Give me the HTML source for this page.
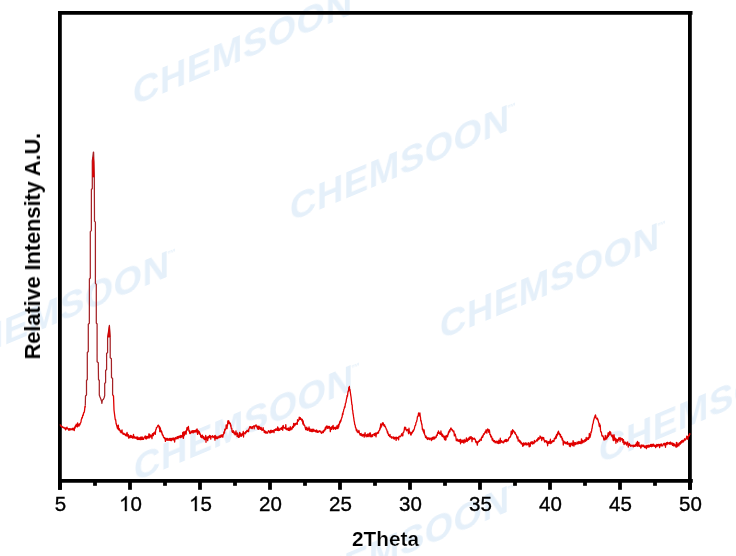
<!DOCTYPE html>
<html><head><meta charset="utf-8"><style>
html,body{margin:0;padding:0;background:#fff;}
body{width:736px;height:556px;overflow:hidden;}
svg{display:block;}
.tl{font-family:"Liberation Sans",sans-serif;font-size:20.5px;fill:#000;text-anchor:middle;stroke:#000;stroke-width:0.35px;}
.at{font-family:"Liberation Sans",sans-serif;font-size:20.8px;font-weight:bold;fill:#000;stroke:#fff;stroke-width:0.2px;}
.wm{font-family:"Liberation Sans",sans-serif;font-size:36.5px;font-weight:bold;fill:rgb(110,170,225);letter-spacing:0.6px;}
</style></head><body>
<svg width="736" height="556" viewBox="0 0 736 556">
<rect x="0" y="0" width="736" height="556" fill="#fff"/>
<g opacity="0.18">
<text transform="matrix(1,-0.42,0,1,133,106)" class="wm">CHEMSOON<tspan font-size="9" dy="-19" dx="-3" style="stroke:none">™</tspan></text>
<text transform="matrix(1,-0.42,0,1,290,222)" class="wm">CHEMSOON<tspan font-size="9" dy="-19" dx="-3" style="stroke:none">™</tspan></text>
<text transform="matrix(1,-0.42,0,1,440,340)" class="wm">CHEMSOON<tspan font-size="9" dy="-19" dx="-3" style="stroke:none">™</tspan></text>
<text transform="matrix(1,-0.42,0,1,599,464)" class="wm">CHEMSOON<tspan font-size="9" dy="-19" dx="-3" style="stroke:none">™</tspan></text>
<text transform="matrix(1,-0.42,0,1,134,482)" class="wm">CHEMSOON<tspan font-size="9" dy="-19" dx="-3" style="stroke:none">™</tspan></text>
<text transform="matrix(1,-0.42,0,1,-50,368)" class="wm">CHEMSOON<tspan font-size="9" dy="-19" dx="-3" style="stroke:none">™</tspan></text>
<text transform="matrix(1,-0.42,0,1,290,603)" class="wm">CHEMSOON<tspan font-size="9" dy="-19" dx="-3" style="stroke:none">™</tspan></text>
</g>
<g stroke="#000" stroke-width="3.8" fill="none" stroke-linecap="butt">
<line x1="58" y1="12.9" x2="692.5" y2="12.9"/>
<line x1="58" y1="480.9" x2="692.8" y2="480.9"/>
<line x1="59.9" y1="11" x2="59.9" y2="489.8"/>
<line x1="689.9" y1="11" x2="689.9" y2="489.8"/>
<line x1="60" y1="480" x2="60" y2="489.8"/><line x1="130" y1="480" x2="130" y2="489.8"/><line x1="200" y1="480" x2="200" y2="489.8"/><line x1="270" y1="480" x2="270" y2="489.8"/><line x1="340" y1="480" x2="340" y2="489.8"/><line x1="410" y1="480" x2="410" y2="489.8"/><line x1="480" y1="480" x2="480" y2="489.8"/><line x1="550" y1="480" x2="550" y2="489.8"/><line x1="620" y1="480" x2="620" y2="489.8"/><line x1="690" y1="480" x2="690" y2="489.8"/><line x1="95" y1="480" x2="95" y2="485.8"/><line x1="165" y1="480" x2="165" y2="485.8"/><line x1="235" y1="480" x2="235" y2="485.8"/><line x1="305" y1="480" x2="305" y2="485.8"/><line x1="375" y1="480" x2="375" y2="485.8"/><line x1="445" y1="480" x2="445" y2="485.8"/><line x1="515" y1="480" x2="515" y2="485.8"/><line x1="585" y1="480" x2="585" y2="485.8"/><line x1="655" y1="480" x2="655" y2="485.8"/>
</g>
<text x="60.5" y="511" class="tl">5</text><path d="M763 0L583 0L583 1147Q518 1085 412 1023Q306 961 222 930L222 1104Q373 1175 486 1276Q599 1377 646 1472L763 1472Z" transform="translate(119.10,511) scale(0.010010,-0.010010)" fill="#000" stroke="#000" stroke-width="35.0"/><text x="130.5" y="511" class="tl" style="text-anchor:start">0</text><path d="M763 0L583 0L583 1147Q518 1085 412 1023Q306 961 222 930L222 1104Q373 1175 486 1276Q599 1377 646 1472L763 1472Z" transform="translate(189.10,511) scale(0.010010,-0.010010)" fill="#000" stroke="#000" stroke-width="35.0"/><text x="200.5" y="511" class="tl" style="text-anchor:start">5</text><text x="270.5" y="511" class="tl">20</text><text x="340.5" y="511" class="tl">25</text><text x="410.5" y="511" class="tl">30</text><text x="480.5" y="511" class="tl">35</text><text x="550.5" y="511" class="tl">40</text><text x="620.5" y="511" class="tl">45</text><text x="690.5" y="511" class="tl">50</text>
<text x="352" y="546" class="at">2Theta</text>
<text x="0" y="0" transform="translate(40,359.5) rotate(-90)" class="at" style="font-size:22px;letter-spacing:-0.16px;stroke-width:0.05px">Relative Intensity A.U.</text>
<g fill="none" stroke-linejoin="round">
<path d="M60.00,425.3 L60.28,424.9 L60.56,425.3 L60.84,425.5 L61.12,426.6 L61.40,426.6 L61.68,426.9 L61.96,426.4 L62.24,426.5 L62.52,427.3 L62.80,427.2 L63.08,427.5 L63.36,427.8 L63.64,427.7 L63.92,427.2 L64.20,428.0 L64.48,428.0 L64.76,428.5 L65.04,428.8 L65.32,427.9 L65.60,429.8 L65.88,428.8 L66.16,428.1 L66.44,427.9 L66.72,428.8 L67.00,427.2 L67.28,428.7 L67.56,428.4 L67.84,428.8 L68.12,428.6 L68.40,429.3 L68.68,430.2 L68.96,429.5 L69.24,428.6 L69.52,430.2 L69.80,429.1 L70.08,428.7 L70.36,429.4 L70.64,429.7 L70.92,428.8 L71.20,429.0 L71.48,429.3 L71.76,429.7 L72.04,429.7 L72.32,428.3 L72.60,429.3 L72.88,429.8 L73.16,428.2 L73.44,428.8 L73.72,429.9 L74.00,428.4 L74.28,430.5 L74.56,427.3 L74.84,427.0 L75.12,428.2 L75.40,425.8 L75.68,425.6 L75.96,426.6 L76.24,424.2 L76.52,425.2 L76.80,425.6 L77.08,424.8 L77.36,426.9 L77.64,422.8 L77.92,426.0 L78.20,425.7 L78.48,424.4 L78.76,424.7 L79.04,426.1 L79.32,424.4 L79.60,423.8 L79.88,424.8 L80.16,423.8 L80.44,423.3 L80.72,422.6 L81.00,422.0 L81.28,419.5 L81.56,419.1 L81.84,417.6 L82.12,418.1 L82.40,417.5 L82.68,415.3 L82.96,414.9 L83.24,415.2 L83.52,413.3 L83.80,412.4 L84.08,412.6 L84.36,411.6 L84.64,409.6 L84.92,406.5 L85.20,407.1 L85.30,405.5" stroke="#e00000" stroke-width="1.3"/>
<path d="M85.30,405.5 L85.50,396.0 L86.50,395.0 L86.50,380.5 L87.30,379.5 L87.30,352.5 L88.30,351.5 L88.30,324.3 L89.35,323.3 L89.40,279.0 L90.30,278.0 L90.30,231.6 L91.35,230.6 L91.40,189.5 L92.30,188.5 L92.30,161.0 L93.40,152.0 L93.60,152.0 L94.30,177.0 L94.50,221.2 L95.40,222.2 L95.40,283.4 L96.30,284.4 L96.30,323.0 L97.10,324.0 L97.10,361.7 L98.30,362.7 L98.50,379.5 L99.30,380.5 L99.30,395.0 L100.00,397.0 L100.80,399.0 L101.50,401.0 L101.90,403.3 L102.40,400.0 L103.30,399.5 L104.20,397.5 L104.70,395.5 L104.70,383.5 L105.60,382.5 L105.60,370.5 L106.60,369.5 L106.60,353.5 L107.60,352.5 L107.60,338.0 L109.40,325.3 L110.20,338.0 L110.20,357.7 L111.40,358.7 L111.50,377.5 L112.60,378.5 L112.60,395.0" stroke="#a52226" stroke-width="1.25"/>
<path d="M92.6,177 L92.7,162 L93.3,157 L93.9,162 L94.1,177 Z" stroke="#d80000" stroke-width="0.7" fill="#d80000"/>
<path d="M107.8,337 L109.4,326.5 L110,337 Z" stroke="#d80000" stroke-width="0.9" fill="#d80000"/>
<path d="M112.60,395.0 L113.50,396.0 L114.00,410.0 L115.00,417.8 L115.28,419.7 L115.56,419.4 L115.84,421.1 L116.12,424.0 L116.40,423.7 L116.68,425.8 L116.96,425.5 L117.24,428.0 L117.52,426.3 L117.80,428.9 L118.08,427.6 L118.36,425.1 L118.64,429.8 L118.92,430.0 L119.20,428.6 L119.48,429.2 L119.76,430.3 L120.04,430.2 L120.32,431.8 L120.60,430.9 L120.88,432.4 L121.16,432.7 L121.44,432.0 L121.72,430.9 L122.00,429.9 L122.28,432.7 L122.56,433.2 L122.84,433.4 L123.12,434.3 L123.40,433.8 L123.68,433.1 L123.96,433.8 L124.24,434.6 L124.52,433.8 L124.80,434.1 L125.08,434.7 L125.36,434.4 L125.64,435.5 L125.92,435.4 L126.20,433.9 L126.48,435.8 L126.76,433.8 L127.04,432.5 L127.32,434.2 L127.60,434.2 L127.88,436.5 L128.16,435.1 L128.44,434.7 L128.72,438.2 L129.00,436.4 L129.28,436.7 L129.56,436.1 L129.84,437.7 L130.12,436.8 L130.40,435.5 L130.68,437.1 L130.96,435.7 L131.24,437.7 L131.52,436.0 L131.80,435.9 L132.08,436.6 L132.36,437.1 L132.64,438.2 L132.92,436.5 L133.20,437.7 L133.48,434.4 L133.76,436.5 L134.04,438.1 L134.32,436.7 L134.60,436.8 L134.88,437.8 L135.16,438.2 L135.44,437.4 L135.72,438.1 L136.00,437.1 L136.28,437.0 L136.56,437.7 L136.84,438.9 L137.12,438.2 L137.40,439.4 L137.68,437.0 L137.96,439.5 L138.24,437.7 L138.52,438.8 L138.80,438.8 L139.08,439.4 L139.36,437.9 L139.64,437.8 L139.92,439.5 L140.20,437.5 L140.48,439.7 L140.76,437.2 L141.04,439.4 L141.32,437.2 L141.60,438.0 L141.88,439.5 L142.16,437.0 L142.44,438.1 L142.72,439.4 L143.00,438.3 L143.28,439.4 L143.56,439.4 L143.84,437.5 L144.12,437.4 L144.40,437.0 L144.68,437.1 L144.96,437.7 L145.24,435.8 L145.52,438.4 L145.80,437.5 L146.08,439.0 L146.36,438.2 L146.64,436.4 L146.92,438.5 L147.20,438.0 L147.48,436.4 L147.76,437.2 L148.04,437.9 L148.32,437.3 L148.60,437.5 L148.88,433.8 L149.16,438.0 L149.44,434.2 L149.72,437.1 L150.00,435.3 L150.28,437.0 L150.56,436.3 L150.84,434.8 L151.12,436.9 L151.40,436.2 L151.68,435.7 L151.96,438.6 L152.24,435.2 L152.52,433.6 L152.80,433.8 L153.08,433.7 L153.36,435.7 L153.64,432.8 L153.92,433.6 L154.20,432.8 L154.48,433.9 L154.76,433.1 L155.04,431.6 L155.32,434.3 L155.60,430.7 L155.88,429.5 L156.16,429.3 L156.44,427.5 L156.72,427.6 L157.00,427.2 L157.28,426.9 L157.56,426.5 L157.84,425.3 L158.12,425.6 L158.40,425.1 L158.68,425.8 L158.96,426.3 L159.24,428.1 L159.52,426.5 L159.80,431.7 L160.08,429.6 L160.36,428.0 L160.64,430.1 L160.92,431.5 L161.20,430.6 L161.48,432.7 L161.76,431.6 L162.04,433.5 L162.32,434.8 L162.60,434.3 L162.88,435.7 L163.16,435.5 L163.44,436.9 L163.72,437.6 L164.00,437.8 L164.28,437.5 L164.56,438.7 L164.84,437.7 L165.12,439.0 L165.40,441.4 L165.68,438.7 L165.96,439.7 L166.24,439.2 L166.52,438.4 L166.80,438.9 L167.08,440.3 L167.36,438.3 L167.64,439.2 L167.92,438.7 L168.20,440.2 L168.48,439.7 L168.76,440.0 L169.04,440.3 L169.32,438.4 L169.60,439.2 L169.88,439.3 L170.16,440.3 L170.44,438.5 L170.72,440.1 L171.00,440.6 L171.28,438.3 L171.56,440.5 L171.84,439.2 L172.12,440.0 L172.40,438.4 L172.68,438.2 L172.96,439.7 L173.24,438.7 L173.52,438.2 L173.80,437.9 L174.08,440.3 L174.36,439.1 L174.64,442.0 L174.92,439.2 L175.20,438.2 L175.48,437.5 L175.76,438.5 L176.04,438.9 L176.32,438.3 L176.60,437.6 L176.88,438.7 L177.16,436.7 L177.44,438.3 L177.72,437.1 L178.00,438.7 L178.28,436.3 L178.56,437.1 L178.84,436.4 L179.12,437.7 L179.40,436.2 L179.68,436.3 L179.96,436.0 L180.24,437.2 L180.52,437.6 L180.80,435.5 L181.08,435.9 L181.36,437.2 L181.64,435.6 L181.92,437.0 L182.20,436.6 L182.48,436.0 L182.76,432.3 L183.04,434.4 L183.32,438.4 L183.60,436.2 L183.88,431.7 L184.16,435.6 L184.44,435.2 L184.72,433.1 L185.00,433.9 L185.28,431.4 L185.56,431.8 L185.84,430.9 L186.12,434.1 L186.40,431.0 L186.68,429.8 L186.96,427.7 L187.24,430.1 L187.52,427.9 L187.80,428.3 L188.08,428.4 L188.36,426.4 L188.64,428.6 L188.92,431.2 L189.20,430.4 L189.48,431.3 L189.76,433.3 L190.04,433.6 L190.32,433.5 L190.60,432.9 L190.88,432.0 L191.16,431.0 L191.44,431.4 L191.72,432.6 L192.00,432.2 L192.28,431.8 L192.56,430.7 L192.84,431.0 L193.12,432.9 L193.40,430.7 L193.68,431.3 L193.96,430.7 L194.24,432.0 L194.52,432.0 L194.80,430.7 L195.08,430.5 L195.36,431.0 L195.64,430.4 L195.92,432.1 L196.20,429.9 L196.48,430.3 L196.76,431.3 L197.04,428.8 L197.32,432.1 L197.60,434.4 L197.88,430.5 L198.16,432.7 L198.44,430.9 L198.72,431.4 L199.00,433.1 L199.28,431.7 L199.56,434.2 L199.84,433.0 L200.12,433.7 L200.40,434.3 L200.68,436.9 L200.96,436.8 L201.24,435.9 L201.52,437.6 L201.80,435.4 L202.08,436.5 L202.36,435.2 L202.64,436.6 L202.92,437.8 L203.20,436.4 L203.48,438.7 L203.76,436.7 L204.04,438.9 L204.32,438.1 L204.60,439.7 L204.88,437.9 L205.16,437.9 L205.44,438.5 L205.72,435.3 L206.00,442.3 L206.28,437.6 L206.56,437.4 L206.84,437.1 L207.12,438.7 L207.40,438.7 L207.68,440.6 L207.96,437.9 L208.24,436.5 L208.52,438.0 L208.80,437.8 L209.08,437.6 L209.36,436.5 L209.64,435.3 L209.92,436.1 L210.20,437.6 L210.48,435.8 L210.76,439.2 L211.04,437.1 L211.32,437.1 L211.60,436.5 L211.88,436.4 L212.16,436.6 L212.44,435.6 L212.72,436.9 L213.00,437.7 L213.28,437.0 L213.56,437.1 L213.84,436.3 L214.12,436.3 L214.40,435.9 L214.68,438.2 L214.96,440.1 L215.24,435.3 L215.52,438.2 L215.80,436.8 L216.08,437.6 L216.36,438.7 L216.64,438.3 L216.92,436.5 L217.20,438.3 L217.48,438.6 L217.76,438.4 L218.04,437.6 L218.32,436.8 L218.60,437.6 L218.88,436.2 L219.16,436.3 L219.44,437.5 L219.72,436.0 L220.00,435.7 L220.28,436.9 L220.56,437.3 L220.84,436.4 L221.12,435.0 L221.40,436.2 L221.68,436.4 L221.96,436.7 L222.24,434.9 L222.52,434.8 L222.80,437.1 L223.08,435.2 L223.36,434.7 L223.64,433.7 L223.92,431.9 L224.20,432.4 L224.48,433.1 L224.76,429.2 L225.04,430.2 L225.32,430.2 L225.60,429.1 L225.88,428.7 L226.16,425.0 L226.44,425.0 L226.72,428.1 L227.00,428.6 L227.28,426.2 L227.56,425.1 L227.84,420.9 L228.12,422.9 L228.40,421.1 L228.68,420.8 L228.96,423.5 L229.24,421.8 L229.52,422.9 L229.80,423.9 L230.08,423.1 L230.36,423.3 L230.64,426.1 L230.92,425.0 L231.20,427.9 L231.48,428.8 L231.76,428.3 L232.04,431.8 L232.32,431.2 L232.60,432.4 L232.88,431.9 L233.16,430.7 L233.44,430.9 L233.72,433.0 L234.00,431.6 L234.28,433.8 L234.56,432.8 L234.84,433.1 L235.12,434.8 L235.40,434.8 L235.68,434.1 L235.96,430.8 L236.24,434.1 L236.52,433.5 L236.80,433.9 L237.08,436.5 L237.36,433.0 L237.64,433.6 L237.92,435.0 L238.20,436.0 L238.48,437.4 L238.76,435.3 L239.04,437.4 L239.32,435.2 L239.60,432.3 L239.88,436.3 L240.16,432.8 L240.44,435.2 L240.72,435.1 L241.00,434.2 L241.28,436.3 L241.56,435.4 L241.84,434.4 L242.12,433.6 L242.40,435.2 L242.68,433.8 L242.96,433.4 L243.24,431.5 L243.52,437.0 L243.80,434.0 L244.08,433.0 L244.36,433.3 L244.64,433.0 L244.92,432.9 L245.20,433.8 L245.48,432.0 L245.76,431.6 L246.04,432.8 L246.32,432.3 L246.60,431.4 L246.88,430.3 L247.16,430.5 L247.44,430.8 L247.72,431.6 L248.00,431.2 L248.28,429.8 L248.56,431.7 L248.84,429.7 L249.12,428.5 L249.40,427.9 L249.68,426.9 L249.96,426.7 L250.24,427.7 L250.52,426.6 L250.80,428.1 L251.08,427.9 L251.36,427.9 L251.64,427.0 L251.92,428.6 L252.20,428.7 L252.48,426.7 L252.76,426.8 L253.04,426.5 L253.32,426.6 L253.60,425.9 L253.88,426.1 L254.16,428.8 L254.44,426.1 L254.72,425.8 L255.00,425.9 L255.28,426.0 L255.56,425.1 L255.84,426.1 L256.12,424.9 L256.40,426.8 L256.68,426.5 L256.96,426.7 L257.24,426.3 L257.52,428.8 L257.80,426.5 L258.08,426.1 L258.36,429.4 L258.64,427.8 L258.92,428.6 L259.20,426.4 L259.48,428.9 L259.76,427.4 L260.04,428.7 L260.32,427.5 L260.60,429.3 L260.88,427.8 L261.16,427.5 L261.44,428.6 L261.72,429.7 L262.00,430.5 L262.28,429.4 L262.56,430.1 L262.84,430.1 L263.12,427.6 L263.40,430.1 L263.68,430.2 L263.96,430.1 L264.24,432.3 L264.52,430.7 L264.80,431.4 L265.08,431.0 L265.36,433.1 L265.64,432.3 L265.92,431.6 L266.20,431.9 L266.48,433.1 L266.76,432.2 L267.04,432.3 L267.32,433.0 L267.60,433.0 L267.88,431.8 L268.16,431.9 L268.44,430.7 L268.72,431.4 L269.00,431.4 L269.28,431.7 L269.56,432.3 L269.84,432.9 L270.12,430.6 L270.40,432.8 L270.68,430.8 L270.96,430.2 L271.24,430.5 L271.52,431.9 L271.80,432.5 L272.08,431.4 L272.36,430.7 L272.64,431.6 L272.92,431.9 L273.20,430.3 L273.48,431.3 L273.76,430.5 L274.04,432.6 L274.32,429.6 L274.60,430.2 L274.88,430.2 L275.16,430.1 L275.44,430.4 L275.72,428.9 L276.00,430.2 L276.28,428.9 L276.56,429.2 L276.84,428.9 L277.12,430.3 L277.40,428.3 L277.68,427.0 L277.96,430.3 L278.24,430.5 L278.52,429.2 L278.80,428.1 L279.08,429.7 L279.36,430.4 L279.64,429.4 L279.92,430.0 L280.20,428.9 L280.48,429.0 L280.76,428.2 L281.04,428.2 L281.32,427.7 L281.60,429.3 L281.88,428.6 L282.16,427.1 L282.44,427.6 L282.72,430.3 L283.00,425.8 L283.28,425.5 L283.56,427.7 L283.84,427.3 L284.12,428.1 L284.40,427.6 L284.68,428.0 L284.96,428.2 L285.24,428.3 L285.52,428.8 L285.80,424.6 L286.08,428.9 L286.36,429.6 L286.64,429.1 L286.92,428.6 L287.20,428.9 L287.48,429.9 L287.76,428.3 L288.04,428.2 L288.32,430.2 L288.60,430.4 L288.88,428.0 L289.16,429.5 L289.44,430.5 L289.72,429.0 L290.00,429.5 L290.28,426.7 L290.56,429.5 L290.84,430.0 L291.12,428.0 L291.40,428.2 L291.68,428.3 L291.96,429.2 L292.24,428.4 L292.52,426.5 L292.80,426.6 L293.08,426.8 L293.36,427.5 L293.64,423.4 L293.92,426.2 L294.20,424.4 L294.48,425.8 L294.76,425.9 L295.04,423.5 L295.32,424.6 L295.60,424.6 L295.88,424.6 L296.16,423.9 L296.44,423.0 L296.72,423.7 L297.00,423.3 L297.28,424.3 L297.56,419.6 L297.84,420.4 L298.12,421.3 L298.40,420.2 L298.68,420.2 L298.96,419.9 L299.24,417.2 L299.52,418.9 L299.80,417.8 L300.08,419.4 L300.36,417.6 L300.64,419.4 L300.92,419.5 L301.20,418.9 L301.48,418.9 L301.76,420.1 L302.04,421.1 L302.32,419.3 L302.60,421.5 L302.88,424.0 L303.16,421.0 L303.44,423.4 L303.72,423.7 L304.00,425.3 L304.28,425.1 L304.56,425.2 L304.84,426.0 L305.12,427.3 L305.40,428.2 L305.68,429.7 L305.96,427.7 L306.24,429.5 L306.52,429.1 L306.80,427.2 L307.08,430.0 L307.36,429.4 L307.64,430.4 L307.92,428.3 L308.20,429.7 L308.48,428.6 L308.76,429.2 L309.04,427.0 L309.32,430.7 L309.60,431.0 L309.88,428.7 L310.16,429.7 L310.44,431.2 L310.72,430.2 L311.00,431.3 L311.28,429.9 L311.56,429.4 L311.84,431.6 L312.12,429.2 L312.40,430.1 L312.68,431.5 L312.96,429.3 L313.24,431.1 L313.52,429.9 L313.80,429.3 L314.08,431.3 L314.36,430.5 L314.64,430.7 L314.92,430.5 L315.20,430.5 L315.48,431.6 L315.76,431.9 L316.04,432.0 L316.32,430.1 L316.60,430.0 L316.88,430.8 L317.16,432.0 L317.44,432.4 L317.72,432.1 L318.00,430.8 L318.28,431.2 L318.56,432.2 L318.84,431.5 L319.12,431.6 L319.40,431.6 L319.68,430.7 L319.96,431.4 L320.24,431.4 L320.52,432.0 L320.80,431.2 L321.08,432.5 L321.36,433.3 L321.64,433.2 L321.92,433.0 L322.20,432.2 L322.48,431.8 L322.76,432.0 L323.04,431.0 L323.32,432.7 L323.60,431.4 L323.88,430.6 L324.16,430.0 L324.44,430.9 L324.72,430.8 L325.00,429.1 L325.28,427.7 L325.56,428.7 L325.84,429.2 L326.12,426.4 L326.40,427.5 L326.68,426.3 L326.96,425.9 L327.24,427.3 L327.52,428.4 L327.80,427.0 L328.08,427.8 L328.36,426.4 L328.64,428.2 L328.92,428.1 L329.20,427.9 L329.48,426.5 L329.76,428.0 L330.04,427.5 L330.32,431.7 L330.60,428.8 L330.88,427.6 L331.16,427.8 L331.44,427.0 L331.72,429.3 L332.00,428.2 L332.28,426.5 L332.56,427.5 L332.84,427.7 L333.12,425.3 L333.40,429.3 L333.68,428.4 L333.96,428.3 L334.24,427.4 L334.52,427.8 L334.80,428.6 L335.08,427.3 L335.36,429.3 L335.64,427.5 L335.92,428.6 L336.20,427.9 L336.48,426.8 L336.76,428.5 L337.04,425.6 L337.32,427.5 L337.60,427.5 L337.88,428.6 L338.16,427.9 L338.44,424.3 L338.72,426.9 L339.00,425.0 L339.28,424.3 L339.56,423.0 L339.84,421.5 L340.12,422.8 L340.40,420.5 L340.68,421.6 L340.96,420.7 L341.24,419.3 L341.52,418.5 L341.80,417.3 L342.08,417.4 L342.36,414.7 L342.64,413.2 L342.92,414.5 L343.20,411.7 L343.48,411.5 L343.76,409.5 L344.04,409.0 L344.32,408.1 L344.60,406.6 L344.88,407.4 L345.16,405.5 L345.44,403.4 L345.72,402.9 L346.00,402.2 L346.28,400.2 L346.56,398.7 L346.84,397.8 L347.12,395.5 L347.40,396.4 L347.68,394.3 L347.96,392.2 L348.24,390.9 L348.52,391.3 L348.80,387.5 L349.08,387.0 L349.36,386.4 L349.64,390.0 L349.92,389.3 L350.20,391.3 L350.48,393.4 L350.76,395.3 L351.04,397.0 L351.32,399.5 L351.60,402.0 L351.88,404.7 L352.16,404.8 L352.44,409.7 L352.72,410.4 L353.00,413.7 L353.28,414.6 L353.56,416.9 L353.84,418.6 L354.12,421.0 L354.40,421.7 L354.68,424.4 L354.96,424.7 L355.24,425.6 L355.52,427.6 L355.80,427.7 L356.08,429.0 L356.36,430.6 L356.64,429.3 L356.92,429.6 L357.20,431.8 L357.48,431.2 L357.76,431.8 L358.04,432.7 L358.32,432.0 L358.60,431.3 L358.88,430.4 L359.16,432.0 L359.44,433.0 L359.72,433.6 L360.00,434.8 L360.28,433.6 L360.56,435.2 L360.84,434.1 L361.12,433.4 L361.40,435.6 L361.68,434.6 L361.96,435.7 L362.24,435.7 L362.52,436.0 L362.80,434.3 L363.08,435.3 L363.36,434.4 L363.64,435.6 L363.92,434.9 L364.20,437.2 L364.48,434.1 L364.76,435.5 L365.04,432.7 L365.32,434.7 L365.60,435.6 L365.88,435.9 L366.16,436.8 L366.44,435.3 L366.72,434.7 L367.00,434.6 L367.28,434.8 L367.56,436.5 L367.84,434.0 L368.12,435.9 L368.40,435.0 L368.68,434.5 L368.96,436.6 L369.24,434.5 L369.52,433.1 L369.80,435.8 L370.08,435.5 L370.36,433.0 L370.64,436.6 L370.92,435.1 L371.20,436.8 L371.48,436.7 L371.76,435.3 L372.04,434.8 L372.32,436.5 L372.60,436.3 L372.88,434.7 L373.16,434.6 L373.44,434.7 L373.72,434.1 L374.00,434.7 L374.28,433.7 L374.56,435.5 L374.84,433.9 L375.12,433.8 L375.40,433.0 L375.68,433.7 L375.96,436.8 L376.24,434.6 L376.52,433.6 L376.80,432.9 L377.08,432.7 L377.36,433.6 L377.64,432.6 L377.92,432.2 L378.20,432.9 L378.48,433.1 L378.76,431.1 L379.04,430.8 L379.32,430.2 L379.60,430.3 L379.88,428.0 L380.16,429.1 L380.44,426.7 L380.72,423.9 L381.00,427.5 L381.28,425.4 L381.56,424.6 L381.84,426.0 L382.12,423.8 L382.40,423.0 L382.68,424.3 L382.96,422.6 L383.24,423.3 L383.52,424.3 L383.80,425.6 L384.08,424.7 L384.36,426.1 L384.64,424.9 L384.92,426.6 L385.20,427.0 L385.48,426.8 L385.76,427.8 L386.04,428.3 L386.32,429.3 L386.60,430.0 L386.88,429.8 L387.16,431.4 L387.44,433.0 L387.72,431.7 L388.00,433.0 L388.28,434.0 L388.56,435.3 L388.84,435.1 L389.12,435.7 L389.40,435.2 L389.68,436.5 L389.96,434.3 L390.24,436.5 L390.52,437.1 L390.80,436.9 L391.08,436.8 L391.36,436.8 L391.64,438.0 L391.92,436.6 L392.20,437.6 L392.48,437.6 L392.76,437.9 L393.04,438.0 L393.32,438.4 L393.60,437.0 L393.88,438.8 L394.16,437.3 L394.44,439.0 L394.72,437.8 L395.00,437.6 L395.28,437.3 L395.56,437.4 L395.84,438.2 L396.12,440.4 L396.40,438.5 L396.68,437.1 L396.96,438.2 L397.24,438.2 L397.52,437.6 L397.80,438.2 L398.08,438.9 L398.36,437.4 L398.64,439.8 L398.92,436.3 L399.20,436.4 L399.48,436.8 L399.76,436.2 L400.04,436.1 L400.32,436.7 L400.60,436.5 L400.88,435.9 L401.16,435.5 L401.44,434.4 L401.72,433.7 L402.00,435.2 L402.28,435.7 L402.56,433.7 L402.84,435.8 L403.12,432.5 L403.40,432.5 L403.68,432.3 L403.96,431.1 L404.24,430.1 L404.52,427.7 L404.80,427.1 L405.08,428.1 L405.36,429.1 L405.64,427.4 L405.92,429.3 L406.20,429.8 L406.48,430.8 L406.76,430.0 L407.04,429.8 L407.32,429.5 L407.60,430.1 L407.88,429.7 L408.16,431.4 L408.44,433.1 L408.72,433.7 L409.00,428.2 L409.28,431.6 L409.56,432.5 L409.84,432.5 L410.12,432.1 L410.40,433.3 L410.68,434.7 L410.96,435.1 L411.24,434.4 L411.52,432.5 L411.80,433.5 L412.08,433.0 L412.36,432.3 L412.64,431.4 L412.92,430.7 L413.20,431.7 L413.48,429.8 L413.76,430.4 L414.04,429.5 L414.32,429.0 L414.60,427.5 L414.88,426.4 L415.16,425.5 L415.44,425.6 L415.72,424.6 L416.00,422.5 L416.28,422.3 L416.56,421.8 L416.84,420.3 L417.12,419.4 L417.40,416.8 L417.68,416.6 L417.96,416.6 L418.24,415.5 L418.52,413.0 L418.80,413.4 L419.08,413.3 L419.36,413.8 L419.64,415.9 L419.92,413.0 L420.20,416.3 L420.48,417.3 L420.76,420.9 L421.04,420.3 L421.32,422.0 L421.60,424.2 L421.88,424.0 L422.16,426.9 L422.44,429.8 L422.72,429.0 L423.00,429.1 L423.28,431.4 L423.56,430.7 L423.84,433.0 L424.12,430.0 L424.40,432.6 L424.68,434.9 L424.96,435.0 L425.24,435.5 L425.52,437.3 L425.80,436.1 L426.08,436.2 L426.36,438.1 L426.64,437.3 L426.92,437.4 L427.20,439.0 L427.48,439.5 L427.76,439.2 L428.04,438.0 L428.32,438.8 L428.60,438.8 L428.88,437.8 L429.16,438.1 L429.44,439.5 L429.72,438.8 L430.00,438.5 L430.28,438.9 L430.56,438.3 L430.84,439.2 L431.12,439.4 L431.40,440.5 L431.68,438.9 L431.96,437.7 L432.24,439.6 L432.52,437.4 L432.80,438.2 L433.08,437.3 L433.36,439.0 L433.64,439.0 L433.92,437.0 L434.20,437.7 L434.48,438.9 L434.76,438.7 L435.04,437.0 L435.32,437.6 L435.60,437.6 L435.88,437.6 L436.16,437.5 L436.44,435.2 L436.72,435.8 L437.00,434.6 L437.28,435.4 L437.56,432.8 L437.84,432.5 L438.12,433.1 L438.40,431.0 L438.68,433.4 L438.96,432.0 L439.24,432.6 L439.52,433.3 L439.80,434.1 L440.08,432.8 L440.36,434.4 L440.64,434.3 L440.92,431.0 L441.20,433.2 L441.48,435.1 L441.76,433.7 L442.04,436.1 L442.32,434.1 L442.60,436.5 L442.88,434.9 L443.16,436.3 L443.44,436.9 L443.72,436.1 L444.00,437.8 L444.28,437.2 L444.56,439.6 L444.84,436.2 L445.12,437.8 L445.40,436.7 L445.68,440.1 L445.96,439.7 L446.24,435.3 L446.52,436.5 L446.80,435.9 L447.08,435.7 L447.36,436.8 L447.64,436.4 L447.92,433.8 L448.20,434.7 L448.48,432.0 L448.76,432.9 L449.04,432.4 L449.32,430.8 L449.60,429.9 L449.88,431.7 L450.16,429.5 L450.44,429.7 L450.72,428.1 L451.00,428.0 L451.28,428.9 L451.56,428.8 L451.84,429.9 L452.12,430.2 L452.40,429.7 L452.68,430.5 L452.96,431.2 L453.24,431.7 L453.52,430.9 L453.80,430.9 L454.08,432.6 L454.36,435.9 L454.64,434.4 L454.92,434.2 L455.20,434.2 L455.48,435.7 L455.76,436.3 L456.04,438.5 L456.32,440.6 L456.60,439.8 L456.88,440.7 L457.16,439.2 L457.44,440.7 L457.72,439.5 L458.00,441.1 L458.28,440.6 L458.56,440.1 L458.84,441.3 L459.12,441.4 L459.40,441.2 L459.68,439.7 L459.96,441.9 L460.24,439.5 L460.52,443.8 L460.80,439.3 L461.08,440.8 L461.36,441.5 L461.64,441.0 L461.92,442.4 L462.20,440.6 L462.48,440.3 L462.76,441.9 L463.04,442.2 L463.32,440.7 L463.60,440.8 L463.88,443.1 L464.16,439.3 L464.44,440.6 L464.72,441.4 L465.00,440.8 L465.28,442.1 L465.56,440.1 L465.84,441.6 L466.12,439.8 L466.40,437.8 L466.68,438.8 L466.96,441.0 L467.24,441.5 L467.52,439.6 L467.80,440.6 L468.08,439.7 L468.36,438.5 L468.64,440.1 L468.92,438.4 L469.20,437.6 L469.48,437.1 L469.76,439.3 L470.04,438.3 L470.32,437.2 L470.60,436.7 L470.88,438.4 L471.16,436.6 L471.44,437.4 L471.72,438.1 L472.00,441.6 L472.28,438.4 L472.56,437.6 L472.84,439.0 L473.12,439.0 L473.40,438.7 L473.68,439.2 L473.96,439.2 L474.24,438.2 L474.52,438.4 L474.80,439.2 L475.08,439.8 L475.36,439.5 L475.64,441.8 L475.92,441.2 L476.20,442.5 L476.48,441.3 L476.76,442.4 L477.04,443.2 L477.32,445.2 L477.60,443.0 L477.88,441.7 L478.16,441.4 L478.44,442.1 L478.72,441.0 L479.00,440.8 L479.28,441.1 L479.56,441.4 L479.84,439.9 L480.12,439.1 L480.40,439.9 L480.68,439.8 L480.96,439.9 L481.24,440.4 L481.52,437.4 L481.80,437.2 L482.08,436.7 L482.36,435.9 L482.64,437.5 L482.92,435.9 L483.20,435.9 L483.48,434.0 L483.76,434.4 L484.04,433.7 L484.32,434.2 L484.60,432.9 L484.88,433.1 L485.16,431.6 L485.44,432.5 L485.72,431.9 L486.00,429.9 L486.28,430.3 L486.56,430.1 L486.84,433.2 L487.12,429.7 L487.40,430.9 L487.68,428.8 L487.96,429.3 L488.24,429.3 L488.52,430.2 L488.80,432.4 L489.08,431.2 L489.36,429.9 L489.64,431.8 L489.92,434.6 L490.20,434.3 L490.48,434.3 L490.76,436.7 L491.04,437.1 L491.32,436.2 L491.60,436.6 L491.88,437.8 L492.16,440.0 L492.44,439.3 L492.72,438.6 L493.00,440.6 L493.28,440.4 L493.56,441.5 L493.84,440.4 L494.12,441.0 L494.40,440.8 L494.68,440.6 L494.96,442.6 L495.24,442.1 L495.52,442.7 L495.80,441.6 L496.08,442.2 L496.36,442.1 L496.64,441.2 L496.92,441.2 L497.20,443.3 L497.48,441.9 L497.76,441.5 L498.04,441.5 L498.32,441.5 L498.60,443.5 L498.88,440.2 L499.16,442.8 L499.44,441.8 L499.72,443.1 L500.00,443.3 L500.28,438.2 L500.56,441.9 L500.84,441.4 L501.12,442.4 L501.40,440.8 L501.68,440.7 L501.96,441.3 L502.24,442.0 L502.52,441.8 L502.80,442.7 L503.08,442.5 L503.36,442.3 L503.64,442.9 L503.92,440.8 L504.20,441.8 L504.48,440.3 L504.76,440.7 L505.04,439.8 L505.32,441.3 L505.60,441.2 L505.88,439.6 L506.16,439.4 L506.44,441.6 L506.72,439.7 L507.00,439.9 L507.28,441.0 L507.56,440.2 L507.84,440.9 L508.12,440.3 L508.40,440.2 L508.68,438.1 L508.96,438.0 L509.24,437.4 L509.52,437.7 L509.80,436.8 L510.08,437.4 L510.36,436.6 L510.64,436.1 L510.92,434.0 L511.20,431.1 L511.48,434.6 L511.76,432.4 L512.04,430.8 L512.32,433.7 L512.60,429.7 L512.88,431.8 L513.16,430.4 L513.44,430.5 L513.72,431.8 L514.00,431.4 L514.28,431.8 L514.56,432.2 L514.84,433.3 L515.12,432.4 L515.40,434.0 L515.68,434.6 L515.96,434.3 L516.24,434.8 L516.52,435.2 L516.80,437.1 L517.08,437.0 L517.36,438.7 L517.64,438.1 L517.92,437.0 L518.20,441.1 L518.48,440.4 L518.76,440.9 L519.04,439.9 L519.32,441.1 L519.60,440.4 L519.88,442.3 L520.16,441.0 L520.44,441.1 L520.72,441.5 L521.00,443.7 L521.28,443.4 L521.56,442.8 L521.84,444.0 L522.12,443.4 L522.40,443.5 L522.68,446.3 L522.96,444.1 L523.24,444.0 L523.52,442.8 L523.80,445.7 L524.08,444.3 L524.36,443.4 L524.64,444.4 L524.92,443.2 L525.20,443.9 L525.48,442.9 L525.76,444.7 L526.04,444.9 L526.32,443.2 L526.60,443.2 L526.88,444.9 L527.16,444.4 L527.44,444.5 L527.72,444.2 L528.00,444.6 L528.28,442.6 L528.56,444.5 L528.84,443.9 L529.12,446.8 L529.40,444.7 L529.68,443.5 L529.96,442.9 L530.24,446.3 L530.52,443.6 L530.80,442.2 L531.08,443.7 L531.36,443.5 L531.64,442.1 L531.92,441.8 L532.20,442.1 L532.48,444.0 L532.76,442.0 L533.04,443.0 L533.32,442.3 L533.60,443.7 L533.88,443.7 L534.16,443.1 L534.44,440.4 L534.72,441.2 L535.00,442.0 L535.28,441.9 L535.56,441.8 L535.84,441.4 L536.12,441.4 L536.40,440.3 L536.68,439.9 L536.96,439.6 L537.24,440.5 L537.52,440.9 L537.80,438.4 L538.08,439.2 L538.36,437.7 L538.64,439.7 L538.92,438.1 L539.20,438.1 L539.48,438.1 L539.76,438.7 L540.04,436.0 L540.32,436.4 L540.60,437.8 L540.88,438.0 L541.16,437.1 L541.44,437.4 L541.72,440.5 L542.00,438.3 L542.28,437.3 L542.56,438.4 L542.84,437.4 L543.12,438.4 L543.40,439.2 L543.68,437.7 L543.96,439.9 L544.24,439.8 L544.52,442.0 L544.80,440.6 L545.08,440.7 L545.36,441.5 L545.64,441.1 L545.92,440.9 L546.20,441.1 L546.48,442.5 L546.76,441.0 L547.04,442.4 L547.32,441.8 L547.60,445.8 L547.88,442.1 L548.16,442.6 L548.44,441.6 L548.72,443.3 L549.00,441.7 L549.28,441.7 L549.56,441.2 L549.84,442.6 L550.12,443.6 L550.40,439.2 L550.68,442.9 L550.96,443.1 L551.24,441.6 L551.52,443.1 L551.80,442.2 L552.08,441.2 L552.36,441.9 L552.64,440.8 L552.92,440.5 L553.20,441.7 L553.48,440.6 L553.76,441.4 L554.04,441.3 L554.32,438.4 L554.60,438.5 L554.88,437.9 L555.16,438.9 L555.44,438.5 L555.72,436.4 L556.00,435.9 L556.28,438.2 L556.56,434.3 L556.84,435.2 L557.12,435.8 L557.40,434.4 L557.68,432.9 L557.96,431.9 L558.24,432.5 L558.52,431.2 L558.80,434.0 L559.08,434.4 L559.36,433.1 L559.64,434.4 L559.92,434.2 L560.20,436.1 L560.48,434.4 L560.76,436.5 L561.04,437.5 L561.32,437.5 L561.60,436.7 L561.88,437.6 L562.16,440.0 L562.44,438.4 L562.72,439.7 L563.00,440.3 L563.28,445.0 L563.56,441.2 L563.84,441.1 L564.12,441.6 L564.40,443.1 L564.68,442.5 L564.96,441.9 L565.24,442.2 L565.52,443.5 L565.80,442.7 L566.08,443.5 L566.36,442.4 L566.64,443.6 L566.92,443.8 L567.20,444.3 L567.48,441.7 L567.76,444.2 L568.04,444.1 L568.32,443.6 L568.60,443.7 L568.88,443.2 L569.16,444.3 L569.44,446.2 L569.72,443.4 L570.00,443.5 L570.28,446.6 L570.56,444.0 L570.84,443.1 L571.12,444.3 L571.40,443.5 L571.68,443.1 L571.96,444.9 L572.24,445.7 L572.52,445.1 L572.80,445.2 L573.08,440.7 L573.36,442.1 L573.64,442.9 L573.92,446.1 L574.20,444.1 L574.48,444.6 L574.76,442.5 L575.04,443.3 L575.32,442.6 L575.60,444.7 L575.88,443.6 L576.16,443.8 L576.44,443.9 L576.72,443.7 L577.00,442.2 L577.28,443.9 L577.56,443.5 L577.84,443.9 L578.12,441.9 L578.40,442.6 L578.68,443.6 L578.96,441.5 L579.24,443.4 L579.52,443.3 L579.80,442.0 L580.08,443.4 L580.36,441.9 L580.64,441.9 L580.92,443.7 L581.20,443.6 L581.48,438.9 L581.76,440.5 L582.04,441.2 L582.32,440.9 L582.60,442.8 L582.88,440.4 L583.16,441.7 L583.44,441.4 L583.72,441.5 L584.00,442.2 L584.28,441.4 L584.56,440.0 L584.84,440.6 L585.12,439.7 L585.40,440.9 L585.68,441.3 L585.96,438.8 L586.24,437.4 L586.52,440.4 L586.80,439.0 L587.08,439.8 L587.36,439.2 L587.64,437.9 L587.92,439.1 L588.20,437.6 L588.48,439.3 L588.76,437.9 L589.04,438.1 L589.32,433.5 L589.60,435.7 L589.88,437.5 L590.16,436.6 L590.44,435.6 L590.72,433.9 L591.00,431.7 L591.28,432.4 L591.56,431.2 L591.84,428.9 L592.12,428.4 L592.40,426.2 L592.68,424.2 L592.96,423.9 L593.24,422.8 L593.52,420.7 L593.80,420.1 L594.08,418.8 L594.36,417.7 L594.64,417.8 L594.92,415.9 L595.20,416.0 L595.48,414.9 L595.76,415.9 L596.04,418.1 L596.32,418.2 L596.60,418.3 L596.88,419.0 L597.16,419.3 L597.44,418.2 L597.72,420.0 L598.00,419.7 L598.28,421.1 L598.56,422.4 L598.84,422.8 L599.12,425.4 L599.40,426.5 L599.68,423.8 L599.96,425.4 L600.24,425.4 L600.52,430.4 L600.80,431.8 L601.08,431.6 L601.36,432.0 L601.64,434.0 L601.92,435.7 L602.20,436.2 L602.48,435.5 L602.76,436.2 L603.04,436.0 L603.32,437.1 L603.60,438.4 L603.88,439.9 L604.16,438.3 L604.44,438.6 L604.72,439.8 L605.00,439.9 L605.28,435.4 L605.56,438.7 L605.84,437.9 L606.12,439.1 L606.40,437.2 L606.68,438.8 L606.96,436.6 L607.24,435.4 L607.52,437.5 L607.80,435.8 L608.08,432.9 L608.36,436.4 L608.64,433.9 L608.92,433.6 L609.20,432.5 L609.48,434.9 L609.76,431.5 L610.04,432.5 L610.32,433.9 L610.60,432.2 L610.88,434.4 L611.16,435.2 L611.44,435.6 L611.72,436.3 L612.00,434.9 L612.28,437.0 L612.56,435.4 L612.84,437.9 L613.12,440.2 L613.40,436.4 L613.68,440.7 L613.96,434.7 L614.24,436.1 L614.52,438.9 L614.80,438.4 L615.08,440.1 L615.36,438.2 L615.64,440.0 L615.92,443.3 L616.20,439.1 L616.48,439.3 L616.76,439.5 L617.04,440.9 L617.32,441.1 L617.60,442.1 L617.88,439.5 L618.16,440.5 L618.44,440.3 L618.72,438.1 L619.00,437.8 L619.28,438.3 L619.56,439.3 L619.84,438.0 L620.12,441.5 L620.40,437.8 L620.68,437.8 L620.96,439.1 L621.24,439.1 L621.52,438.5 L621.80,438.7 L622.08,440.4 L622.36,438.6 L622.64,440.4 L622.92,442.5 L623.20,439.6 L623.48,439.8 L623.76,441.5 L624.04,444.5 L624.32,442.0 L624.60,442.3 L624.88,443.8 L625.16,443.0 L625.44,442.5 L625.72,442.1 L626.00,443.2 L626.28,444.3 L626.56,445.1 L626.84,442.8 L627.12,443.1 L627.40,443.5 L627.68,442.0 L627.96,444.0 L628.24,447.0 L628.52,445.0 L628.80,445.4 L629.08,444.0 L629.36,443.5 L629.64,444.5 L629.92,445.5 L630.20,445.5 L630.48,445.0 L630.76,446.4 L631.04,446.2 L631.32,445.4 L631.60,445.7 L631.88,445.5 L632.16,445.2 L632.44,445.4 L632.72,445.4 L633.00,446.5 L633.28,446.8 L633.56,445.2 L633.84,445.7 L634.12,445.4 L634.40,446.4 L634.68,445.7 L634.96,446.3 L635.24,444.7 L635.52,446.1 L635.80,444.4 L636.08,445.7 L636.36,442.8 L636.64,444.2 L636.92,444.3 L637.20,446.1 L637.48,441.4 L637.76,446.3 L638.04,444.7 L638.32,444.8 L638.60,445.3 L638.88,442.3 L639.16,446.0 L639.44,446.5 L639.72,445.6 L640.00,445.9 L640.28,446.5 L640.56,446.7 L640.84,448.0 L641.12,445.0 L641.40,446.6 L641.68,446.8 L641.96,445.1 L642.24,446.3 L642.52,445.4 L642.80,445.2 L643.08,445.6 L643.36,446.2 L643.64,445.2 L643.92,445.9 L644.20,447.0 L644.48,447.6 L644.76,446.1 L645.04,446.0 L645.32,446.0 L645.60,447.5 L645.88,447.8 L646.16,446.0 L646.44,448.7 L646.72,445.3 L647.00,445.5 L647.28,447.3 L647.56,445.5 L647.84,446.2 L648.12,445.8 L648.40,446.2 L648.68,447.2 L648.96,444.9 L649.24,446.0 L649.52,446.8 L649.80,445.7 L650.08,445.9 L650.36,446.4 L650.64,444.5 L650.92,444.6 L651.20,444.7 L651.48,446.7 L651.76,444.4 L652.04,444.3 L652.32,446.4 L652.60,445.1 L652.88,444.5 L653.16,446.0 L653.44,444.2 L653.72,445.9 L654.00,445.9 L654.28,446.2 L654.56,445.2 L654.84,445.1 L655.12,445.9 L655.40,446.4 L655.68,447.7 L655.96,446.5 L656.24,444.8 L656.52,445.9 L656.80,444.4 L657.08,446.5 L657.36,446.1 L657.64,444.6 L657.92,445.2 L658.20,444.3 L658.48,444.7 L658.76,445.8 L659.04,444.3 L659.32,445.9 L659.60,447.6 L659.88,446.0 L660.16,444.5 L660.44,445.8 L660.72,444.5 L661.00,444.5 L661.28,443.8 L661.56,445.8 L661.84,445.1 L662.12,445.4 L662.40,445.8 L662.68,445.9 L662.96,445.2 L663.24,443.9 L663.52,444.2 L663.80,443.5 L664.08,444.0 L664.36,443.9 L664.64,445.1 L664.92,443.2 L665.20,444.7 L665.48,447.3 L665.76,443.9 L666.04,444.5 L666.32,444.4 L666.60,442.6 L666.88,444.7 L667.16,442.4 L667.44,443.8 L667.72,442.3 L668.00,443.8 L668.28,443.3 L668.56,443.6 L668.84,443.4 L669.12,442.7 L669.40,443.7 L669.68,444.1 L669.96,444.4 L670.24,442.1 L670.52,442.1 L670.80,442.8 L671.08,443.7 L671.36,444.1 L671.64,444.2 L671.92,443.8 L672.20,442.8 L672.48,445.4 L672.76,443.7 L673.04,445.0 L673.32,445.2 L673.60,443.4 L673.88,446.0 L674.16,444.1 L674.44,444.2 L674.72,445.0 L675.00,445.7 L675.28,445.9 L675.56,444.9 L675.84,446.6 L676.12,447.3 L676.40,442.5 L676.68,445.6 L676.96,442.7 L677.24,446.6 L677.52,444.3 L677.80,445.7 L678.08,445.0 L678.36,443.9 L678.64,444.3 L678.92,445.8 L679.20,442.9 L679.48,443.6 L679.76,444.1 L680.04,442.3 L680.32,444.1 L680.60,441.7 L680.88,442.7 L681.16,443.1 L681.44,442.1 L681.72,440.6 L682.00,442.6 L682.28,441.6 L682.56,440.8 L682.84,440.3 L683.12,440.6 L683.40,441.9 L683.68,441.4 L683.96,440.1 L684.24,440.4 L684.52,439.0 L684.80,438.7 L685.08,439.3 L685.36,440.1 L685.64,439.1 L685.92,439.1 L686.20,438.9 L686.48,438.0 L686.76,436.2 L687.04,438.1 L687.32,438.6 L687.60,436.8 L687.88,439.4 L688.16,437.0 L688.44,435.9 L688.72,435.1 L689.00,435.6 L689.28,435.8 L689.56,433.7 L689.84,434.3 L690.12,433.4" stroke="#e00000" stroke-width="1.3"/>
</g>
</svg>
</body></html>
